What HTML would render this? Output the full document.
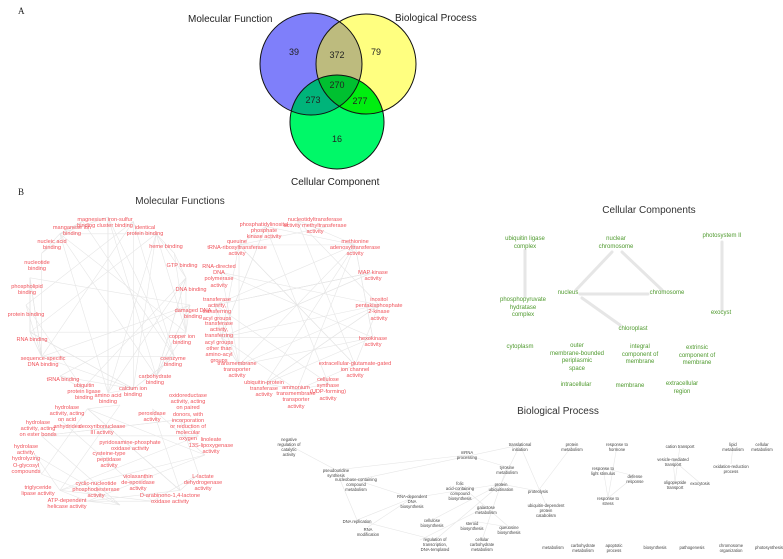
<!DOCTYPE html>
<html><head><meta charset="utf-8"><style>
body{margin:0;width:783px;height:559px;background:#fff;position:relative;overflow:hidden;font-family:"Liberation Sans",sans-serif}
.t{position:absolute;white-space:nowrap;text-align:center;transform:translateX(-50%)}
.r{color:#f0545c;font-size:5.6px;line-height:6.2px}
.g{color:#4f9a2e;font-size:6px;line-height:7.6px}
.b{color:#444;font-size:4.2px;line-height:5px}
.h{color:#333;font-size:10px}
svg{position:absolute;left:0;top:0}
</style></head><body>
<svg width="783" height="559" id="s">
<defs>
<clipPath id="cm"><circle cx="311" cy="64" r="51"/></clipPath>
<clipPath id="cb"><circle cx="366" cy="64" r="50"/></clipPath>
<clipPath id="cc"><circle cx="337" cy="122" r="47"/></clipPath>
</defs>
<circle cx="311" cy="64" r="51" fill="#7f7ffa"/>
<circle cx="366" cy="64" r="50" fill="#ffff80"/>
<circle cx="337" cy="122" r="47" fill="#00f868"/>
<circle cx="366" cy="64" r="50" fill="#bdbb7e" clip-path="url(#cm)"/>
<g clip-path="url(#cc)"><circle cx="311" cy="64" r="51" fill="#00b47a"/><circle cx="366" cy="64" r="50" fill="#00ee10"/></g>
<g clip-path="url(#cm)"><circle cx="366" cy="64" r="50" fill="#00c030" clip-path="url(#cc)"/></g>
<g fill="none" stroke="#111" stroke-width="1"><circle cx="311" cy="64" r="51"/><circle cx="366" cy="64" r="50"/><circle cx="337" cy="122" r="47"/></g>
<g font-size="9" fill="#222" text-anchor="middle" font-family="Liberation Sans">
<text x="294" y="55">39</text><text x="337" y="58">372</text><text x="376" y="55">79</text>
<text x="337" y="88">270</text><text x="313" y="103">273</text><text x="360" y="104">277</text><text x="337" y="142">16</text></g>
<g font-size="10" fill="#222" font-family="Liberation Sans">
<text x="188" y="22">Molecular Function</text><text x="395" y="21">Biological Process</text><text x="291" y="185">Cellular Component</text>
<text x="18" y="14" font-family="Liberation Serif" font-size="9">A</text><text x="18" y="195" font-family="Liberation Serif" font-size="9">B</text></g>
<g stroke="#e6e6e6" stroke-width="3" stroke-linecap="round">
<line x1="525" y1="250" x2="525" y2="296"/><line x1="722" y1="242" x2="722" y2="310"/>
<line x1="612" y1="252" x2="576" y2="290"/><line x1="622" y1="252" x2="662" y2="290"/>
<line x1="580" y1="294" x2="648" y2="294"/><line x1="582" y1="298" x2="620" y2="325"/></g>
<g id="e" stroke="#e6e6e6" stroke-width="0.6"></g>
</svg>
<div class="t h" style="left:180px;top:196px">Molecular Functions</div>
<div class="t h" style="left:649px;top:205px">Cellular Components</div>
<div class="t h" style="left:558px;top:406px">Biological Process</div>

<div class="t r" style="left:105px;top:217px">magnesium iron-sulfur<br>binding cluster binding</div>
<div class="t r" style="left:72px;top:225px">manganese ion<br>binding</div>
<div class="t r" style="left:145px;top:225px">identical<br>protein binding</div>
<div class="t r" style="left:52px;top:239px">nucleic acid<br>binding</div>
<div class="t r" style="left:166px;top:244px">heme binding</div>
<div class="t r" style="left:37px;top:260px">nucleotide<br>binding</div>
<div class="t r" style="left:182px;top:263px">GTP binding</div>
<div class="t r" style="left:27px;top:284px">phospholipid<br>binding</div>
<div class="t r" style="left:191px;top:287px">DNA binding</div>
<div class="t r" style="left:26px;top:312px">protein binding</div>
<div class="t r" style="left:193px;top:308px">damaged DNA<br>binding</div>
<div class="t r" style="left:32px;top:337px">RNA binding</div>
<div class="t r" style="left:182px;top:334px">copper ion<br>binding</div>
<div class="t r" style="left:43px;top:356px">sequence-specific<br>DNA binding</div>
<div class="t r" style="left:173px;top:356px">coenzyme<br>binding</div>
<div class="t r" style="left:63px;top:377px">tRNA binding</div>
<div class="t r" style="left:155px;top:374px">carbohydrate<br>binding</div>
<div class="t r" style="left:84px;top:383px">ubiquitin<br>protein ligase<br>binding</div>
<div class="t r" style="left:108px;top:393px">amino acid<br>binding</div>
<div class="t r" style="left:133px;top:386px">calcium ion<br>binding</div>

<div class="t r" style="left:264px;top:222px">phosphatidylinositol<br>phosphate<br>kinase activity</div>
<div class="t r" style="left:315px;top:217px">nucleotidyltransferase<br>activity methyltransferase<br>activity</div>
<div class="t r" style="left:237px;top:239px">queuine<br>tRNA-ribosyltransferase<br>activity</div>
<div class="t r" style="left:355px;top:239px">methionine<br>adenosyltransferase<br>activity</div>
<div class="t r" style="left:219px;top:264px">RNA-directed<br>DNA<br>polymerase<br>activity</div>
<div class="t r" style="left:373px;top:270px">MAP kinase<br>activity</div>
<div class="t r" style="left:217px;top:297px">transferase<br>activity,<br>transferring<br>acyl groups</div>
<div class="t r" style="left:379px;top:297px">inositol<br>pentakisphosphate<br>2-kinase<br>activity</div>
<div class="t r" style="left:219px;top:321px">transferase<br>activity,<br>transferring<br>acyl groups<br>other than<br>amino-acyl<br>groups</div>
<div class="t r" style="left:373px;top:336px">hexokinase<br>activity</div>
<div class="t r" style="left:237px;top:361px">transmembrane<br>transporter<br>activity</div>
<div class="t r" style="left:355px;top:361px">extracellular-glutamate-gated<br>ion channel<br>activity</div>
<div class="t r" style="left:264px;top:380px">ubiquitin-protein<br>transferase<br>activity</div>
<div class="t r" style="left:328px;top:377px">cellulose<br>synthase<br>(UDP-forming)<br>activity</div>
<div class="t r" style="left:296px;top:385px">ammonium<br>transmembrane<br>transporter<br>activity</div>

<div class="t r" style="left:67px;top:405px">hydrolase<br>activity, acting<br>on acid<br>anhydrides</div>
<div class="t r" style="left:102px;top:424px">deoxyribonuclease<br>III activity</div>
<div class="t r" style="left:38px;top:420px">hydrolase<br>activity, acting<br>on ester bonds</div>
<div class="t r" style="left:188px;top:393px">oxidoreductase<br>activity, acting<br>on paired<br>donors, with<br>incorporation<br>or reduction of<br>molecular<br>oxygen</div>
<div class="t r" style="left:152px;top:411px">peroxidase<br>activity</div>
<div class="t r" style="left:211px;top:437px">linoleate<br>13S-lipoxygenase<br>activity</div>
<div class="t r" style="left:130px;top:440px">pyridoxamine-phosphate<br>oxidase activity</div>
<div class="t r" style="left:26px;top:444px">hydrolase<br>activity,<br>hydrolyzing<br>O-glycosyl<br>compounds</div>
<div class="t r" style="left:109px;top:451px">cysteine-type<br>peptidase<br>activity</div>
<div class="t r" style="left:138px;top:474px">violaxanthin<br>de-epoxidase<br>activity</div>
<div class="t r" style="left:203px;top:474px">L-lactate<br>dehydrogenase<br>activity</div>
<div class="t r" style="left:96px;top:481px">cyclic-nucleotide<br>phosphodiesterase<br>activity</div>
<div class="t r" style="left:38px;top:485px">triglyceride<br>lipase activity</div>
<div class="t r" style="left:67px;top:498px">ATP-dependent<br>helicase activity</div>
<div class="t r" style="left:170px;top:493px">D-arabinono-1,4-lactone<br>oxidase activity</div>

<div class="t g" style="left:525px;top:236px">ubiquitin ligase<br>complex</div>
<div class="t g" style="left:616px;top:236px">nuclear<br>chromosome</div>
<div class="t g" style="left:722px;top:233px">photosystem II</div>
<div class="t g" style="left:568px;top:290px">nucleus</div>
<div class="t g" style="left:667px;top:290px">chromosome</div>
<div class="t g" style="left:523px;top:297px">phosphopyruvate<br>hydratase<br>complex</div>
<div class="t g" style="left:721px;top:310px">exocyst</div>
<div class="t g" style="left:633px;top:326px">chloroplast</div>
<div class="t g" style="left:520px;top:344px">cytoplasm</div>
<div class="t g" style="left:577px;top:343px">outer<br>membrane-bounded<br>periplasmic<br>space</div>
<div class="t g" style="left:640px;top:344px">integral<br>component of<br>membrane</div>
<div class="t g" style="left:697px;top:345px">extrinsic<br>component of<br>membrane</div>
<div class="t g" style="left:576px;top:382px">intracellular</div>
<div class="t g" style="left:630px;top:383px">membrane</div>
<div class="t g" style="left:682px;top:381px">extracellular<br>region</div>

<div class="t b" style="left:289px;top:437px">negative<br>regulation of<br>catalytic<br>activity</div>
<div class="t b" style="left:467px;top:450px">mRNA<br>processing</div>
<div class="t b" style="left:520px;top:442px">translational<br>initiation</div>
<div class="t b" style="left:572px;top:442px">protein<br>metabolism</div>
<div class="t b" style="left:617px;top:442px">response to<br>hormone</div>
<div class="t b" style="left:680px;top:444px">cation transport</div>
<div class="t b" style="left:733px;top:442px">lipid<br>metabolism</div>
<div class="t b" style="left:762px;top:442px">cellular<br>metabolism</div>
<div class="t b" style="left:673px;top:457px">vesicle-mediated<br>transport</div>
<div class="t b" style="left:731px;top:464px">oxidation-reduction<br>process</div>
<div class="t b" style="left:507px;top:465px">tyrosine<br>metabolism</div>
<div class="t b" style="left:603px;top:466px">response to<br>light stimulus</div>
<div class="t b" style="left:635px;top:474px">defense<br>response</div>
<div class="t b" style="left:700px;top:481px">exocytosis</div>
<div class="t b" style="left:675px;top:480px">oligopeptide<br>transport</div>
<div class="t b" style="left:336px;top:468px">pseudouridine<br>synthesis</div>
<div class="t b" style="left:356px;top:477px">nucleobase-containing<br>compound<br>metabolism</div>
<div class="t b" style="left:460px;top:481px">folic<br>acid-containing<br>compound<br>biosynthesis</div>
<div class="t b" style="left:501px;top:482px">protein<br>ubiquitination</div>
<div class="t b" style="left:538px;top:489px">proteolysis</div>
<div class="t b" style="left:412px;top:494px">RNA-dependent<br>DNA<br>biosynthesis</div>
<div class="t b" style="left:608px;top:496px">response to<br>stress</div>
<div class="t b" style="left:546px;top:503px">ubiquitin-dependent<br>protein<br>catabolism</div>
<div class="t b" style="left:486px;top:505px">galactose<br>metabolism</div>
<div class="t b" style="left:357px;top:519px">DNA replication</div>
<div class="t b" style="left:432px;top:518px">cellulose<br>biosynthesis</div>
<div class="t b" style="left:472px;top:521px">steroid<br>biosynthesis</div>
<div class="t b" style="left:509px;top:525px">queuosine<br>biosynthesis</div>
<div class="t b" style="left:368px;top:527px">RNA<br>modification</div>
<div class="t b" style="left:435px;top:537px">regulation of<br>transcription,<br>DNA-templated</div>
<div class="t b" style="left:482px;top:537px">cellular<br>carbohydrate<br>metabolism</div>
<div class="t b" style="left:553px;top:545px">metabolism</div>
<div class="t b" style="left:583px;top:543px">carbohydrate<br>metabolism</div>
<div class="t b" style="left:614px;top:543px">apoptotic<br>process</div>
<div class="t b" style="left:655px;top:545px">biosynthesis</div>
<div class="t b" style="left:692px;top:545px">pathogenesis</div>
<div class="t b" style="left:731px;top:543px">chromosome<br>organization</div>
<div class="t b" style="left:769px;top:545px">photosynthesis</div>
<script>
var g=document.getElementById('e'),ns='http://www.w3.org/2000/svg',seed=7;
function rnd(){seed=(seed*9301+49297)%233280;return seed/233280;}
function L(a,b,c,d){var l=document.createElementNS(ns,'line');l.setAttribute('x1',a);l.setAttribute('y1',b);l.setAttribute('x2',c);l.setAttribute('y2',d);g.appendChild(l);}
function ring(cx,cy,rx,ry,n,k){var p=[];for(var i=0;i<n;i++){var a=i/n*6.283;p.push([cx+rx*Math.cos(a),cy+ry*Math.sin(a)]);}
for(var i=0;i<n*k;i++){var a=p[Math.floor(rnd()*n)],b=p[Math.floor(rnd()*n)];L(a[0],a[1],b[0],b[1]);}}
ring(108,305,82,88,20,3);ring(297,305,82,85,16,3);ring(120,455,85,50,16,2);
var bp=[[289,445,336,470],[336,470,467,455],[356,480,520,445],[356,480,412,498],[412,498,501,484],[501,484,520,445],[501,484,538,491],[520,445,546,505],[572,446,538,491],[467,455,507,467],[507,467,501,484],[357,520,412,498],[357,520,435,540],[432,520,501,484],[460,485,486,507],[486,507,509,527],[435,540,501,484],[482,540,501,484],[617,446,608,498],[603,468,635,476],[603,468,608,498],[635,476,608,498],[673,460,675,482],[680,446,675,482],[673,460,700,483],[733,446,731,464],[336,470,357,520],[368,527,412,498],[472,521,509,527],[420,540,486,507]];
bp.forEach(function(e){L(e[0],e[1],e[2],e[3]);});
</script>
</body></html>
